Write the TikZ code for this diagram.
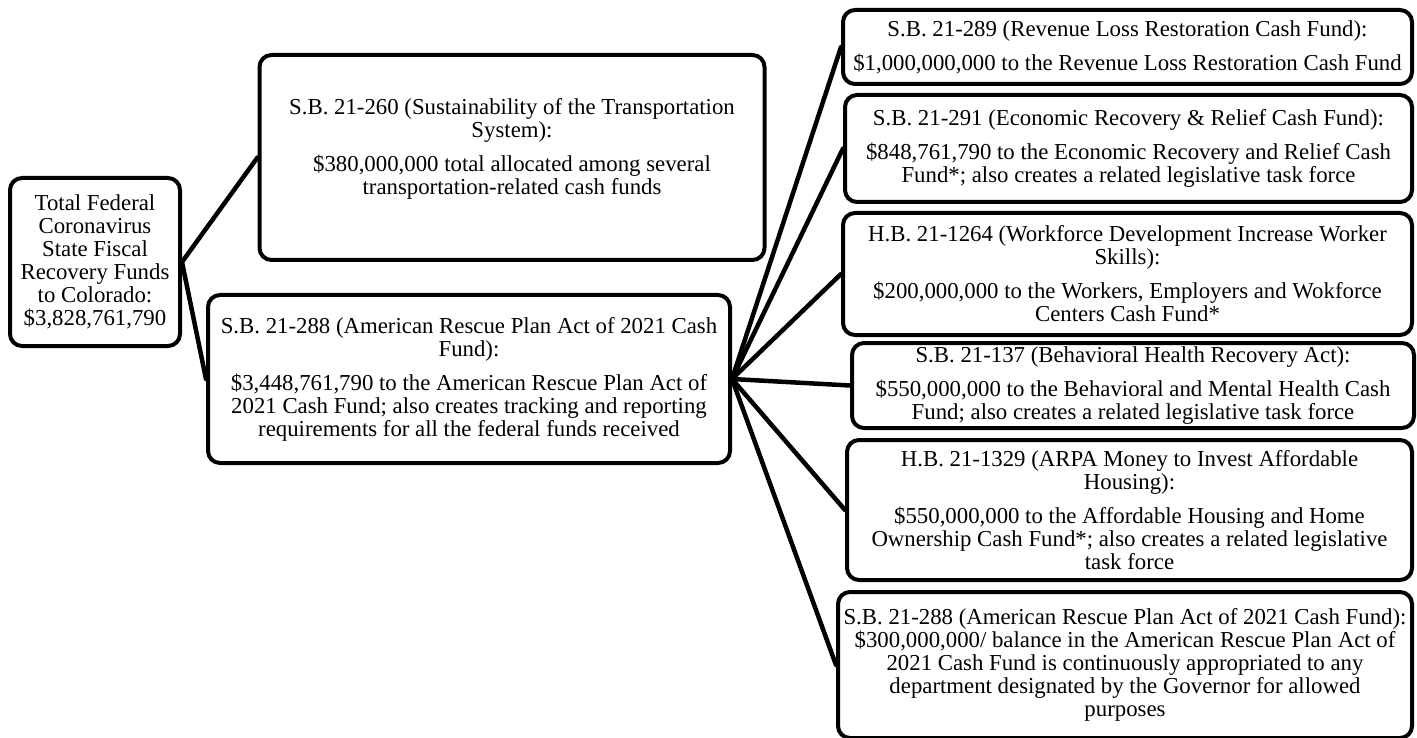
\documentclass[tikz,border=0pt]{standalone}
\usepackage{fontspec}
\setmainfont{Liberation Serif}
\begin{document}
\begin{tikzpicture}[x=1pt, y=-1pt,
    fundbox/.style={draw, line width=4pt, rounded corners=12pt, align=center,
      inner sep=2pt, font=\fontsize{22.8}{23}\selectfont},
    link/.style={line width=4.5pt, line cap=round}]
  \useasboundingbox (0,0) rectangle (1417,738);
  % source of the money
  \node[fundbox, minimum width=170, minimum height=168] (total) at (95,262)
    {Total Federal\\ Coronavirus\\ State Fiscal\\ Recovery Funds\\ to Colorado:\\ \$3,828,761,790};
  % first split
  \node[fundbox, minimum width=505, minimum height=205] (sb260) at (512,157.5)
    {S.B. 21-260 (Sustainability of the Transportation\\ System):\\[11pt]
     \$380,000,000 total allocated among several\\ transportation-related cash funds\\[0pt]};
  \node[fundbox, minimum width=522, minimum height=168] (sb288) at (469,379)
    {S.B. 21-288 (American Rescue Plan Act of 2021 Cash\\ Fund):\\[11pt]
     \$3,448,761,790 to the American Rescue Plan Act of\\ 2021 Cash Fund; also creates tracking and reporting\\ requirements for all the federal funds received};
  % second split
  \node[fundbox, minimum width=569, minimum height=74] (sb289) at (1127.5,47)
    {S.B. 21-289 (Revenue Loss Restoration Cash Fund):\\[11pt]
     \$1,000,000,000 to the Revenue Loss Restoration Cash Fund};
  \node[fundbox, minimum width=567, minimum height=107] (sb291) at (1128.5,148.5)
    {S.B. 21-291 (Economic Recovery \& Relief Cash Fund):\\[11pt]
     \$848,761,790 to the Economic Recovery and Relief Cash\\ Fund*; also creates a related legislative task force};
  \node[fundbox, minimum width=569, minimum height=122] (hb1264) at (1127.5,274)
    {H.B. 21-1264 (Workforce Development Increase Worker\\ Skills):\\[11pt]
     \$200,000,000 to the Workers, Employers and Wokforce\\ Centers Cash Fund*};
  \node[fundbox, minimum width=562, minimum height=85] (sb137) at (1133,385.5)
    {S.B. 21-137 (Behavioral Health Recovery Act):\\[11pt]
     \$550,000,000 to the Behavioral and Mental Health Cash\\ Fund; also creates a related legislative task force};
  \node[fundbox, minimum width=565, minimum height=140] (hb1329) at (1129.5,510)
    {H.B. 21-1329 (ARPA Money to Invest Affordable\\ Housing):\\[11pt]
     \$550,000,000 to the Affordable Housing and Home\\ Ownership Cash Fund*; also creates a related legislative\\ task force};
  \node[fundbox, minimum width=574, minimum height=146] (sb288b) at (1125,665)
    {S.B. 21-288 (American Rescue Plan Act of 2021 Cash Fund):\\
     \$300,000,000/ balance in the American Rescue Plan Act of\\ 2021 Cash Fund is continuously appropriated to any\\ department designated by the Governor for allowed\\ purposes};
  % connectors
  \draw[link] (total.east) -- (sb260.west);
  \draw[link] (total.east) -- (sb288.west);
  \foreach \target in {sb289, sb291, hb1264, sb137, hb1329, sb288b}
    \draw[link] (sb288.east) -- (\target.west);
\end{tikzpicture}
\end{document}
